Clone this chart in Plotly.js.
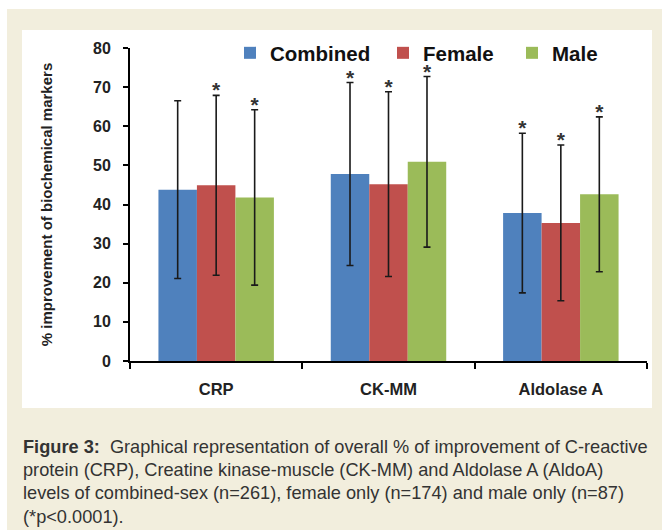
<!DOCTYPE html>
<html><head><meta charset="utf-8">
<script src="https://cdn.plot.ly/plotly-3.0.1.min.js"></script>
<style>html,body{margin:0;padding:0;background:#fff;}#chart{width:662px;height:530px;}</style>
</head><body><div id="chart"></div>
<script>
// ---- data ----
const categories = ["CRP", "CK-MM", "Aldolase A"];
const seriesNames = ["Combined", "Female", "Male"];
const combined = [43.8, 47.8, 37.8];
const combinedSD = [22.7, 23.4, 20.4];
const female = [44.9, 45.2, 35.3];
const femaleSD = [23.0, 23.6, 19.9];
const male = [41.8, 50.9, 42.6];
const maleSD = [22.4, 21.8, 19.8];
const combinedSig = [false, true, true];
const femaleSig = [true, true, true];
const maleSig = [true, true, true];
const yTicks = [0, 10, 20, 30, 40, 50, 60, 70, 80];
const captionLines = [
  "<b>Figure 3:</b>  Graphical representation of overall % of improvement of C-reactive",
  "protein (CRP), Creatine kinase-muscle (CK-MM) and Aldolase A (AldoA)",
  "levels of combined-sex (n=261), female only (n=174) and male only (n=87)",
  "(*p&lt;0.0001)."
];

const colors = ["#4f81bd", "#c0504d", "#9bbb59"];
const means = [combined, female, male];
const sds = [combinedSD, femaleSD, maleSD];
const sigs = [combinedSig, femaleSig, maleSig];

// page geometry (pixels) -> paper coords
const W = 662, H = 530, ML = 130, MR = 15, MT = 48, MB = 169;
const PW = W - ML - MR, PH = H - MT - MB;
const px = x => (x - ML) / PW;
const py = y => (H - MB - y) / PH;
const starLift = 0.8; // visual lift of the asterisks above the error caps (axis units)

const legendIds = ["legend", "legend2", "legend3"];
const legendX = [230, 383, 512];

const traces = [];
seriesNames.forEach((name, i) => {
  traces.push({
    type: "bar", name: name, x: categories, y: means[i],
    marker: {color: colors[i], line: {width: 0}},
    offsetgroup: String(i), legend: legendIds[i],
    error_y: {type: "data", array: sds[i], visible: true, color: "#1a1a1a", thickness: 1.6, width: 3.5},
    hoverinfo: "skip"
  });
});
seriesNames.forEach((name, i) => {
  traces.push({
    type: "scatter", mode: "text", showlegend: false, x: categories, yaxis: "y2",
    y: means[i].map((m, k) => m + sds[i][k]),
    text: sigs[i].map(s => s ? "<b>*</b>" : ""),
    textposition: "middle center",
    textfont: {size: 21, color: "#333", family: "Liberation Sans, Arial, sans-serif"},
    offsetgroup: String(i), hoverinfo: "skip"
  });
});

const annotations = captionLines.map((t, k) => ({
  xref: "paper", yref: "paper", x: px(21), y: py(446.5 + 23.4 * k),
  xanchor: "left", yanchor: "middle", showarrow: false, align: "left",
  text: t, font: {family: "Liberation Sans, Arial, sans-serif", size: 18.2, color: "#333"}
}));

const shapes = [
  {type: "rect", xref: "paper", yref: "paper", x0: px(0), x1: px(W), y0: py(0), y1: py(9), fillcolor: "#fff", line: {width: 0}, layer: "below"},
  {type: "rect", xref: "paper", yref: "paper", x0: px(0), x1: px(7), y0: py(0), y1: py(H), fillcolor: "#fff", line: {width: 0}, layer: "below"},
  {type: "rect", xref: "paper", yref: "paper", x0: px(22), x1: px(652), y0: py(30), y1: py(408), fillcolor: "#fff", line: {width: 0}, layer: "below"}
];

const legendBase = {orientation: "h", xanchor: "left", yanchor: "top", y: py(33),
  bgcolor: "rgba(0,0,0,0)", borderwidth: 0,
  font: {size: 20.5, color: "#111", family: "Liberation Sans, Arial, sans-serif", weight: "bold"},
  itemwidth: 30};

const layout = {
  width: W, height: H,
  margin: {l: ML, r: MR, t: MT, b: MB, pad: 0},
  paper_bgcolor: "#f2eedd", plot_bgcolor: "#fff",
  font: {family: "Liberation Sans, Arial, sans-serif", color: "#222"},
  barmode: "group", bargap: 0.33, bargroupgap: 0,
  scattermode: "group", scattergap: 0.33,
  showlegend: true,
  legend: Object.assign({}, legendBase, {x: px(legendX[0])}),
  legend2: Object.assign({}, legendBase, {x: px(legendX[1])}),
  legend3: Object.assign({}, legendBase, {x: px(legendX[2])}),
  xaxis: {type: "category", showgrid: false, showline: true, linecolor: "#000", linewidth: 2,
    ticks: "outside", tickson: "boundaries", ticklen: 6, tickwidth: 2, tickcolor: "#000",
    ticklabelstandoff: 12,
    tickfont: {size: 16.5, color: "#222", weight: "bold"}, zeroline: false, fixedrange: true},
  yaxis: {range: [0, 80], tickvals: yTicks, showgrid: false, showline: true, linecolor: "#000", linewidth: 2,
    ticks: "outside", ticklen: 5, tickwidth: 2, tickcolor: "#000", ticklabelstandoff: 9,
    tickfont: {size: 16, color: "#222", weight: "bold"}, zeroline: false,
    title: {text: "<b>% improvement of biochemical markers</b>", font: {size: 15, color: "#222"}, standoff: 37}},
  yaxis2: {overlaying: "y", range: [0 - starLift, 80 - starLift], visible: false, showgrid: false, zeroline: false},
  shapes: shapes, annotations: annotations
};

Plotly.newPlot("chart", traces, layout, {displayModeBar: false, staticPlot: true});
</script></body></html>
